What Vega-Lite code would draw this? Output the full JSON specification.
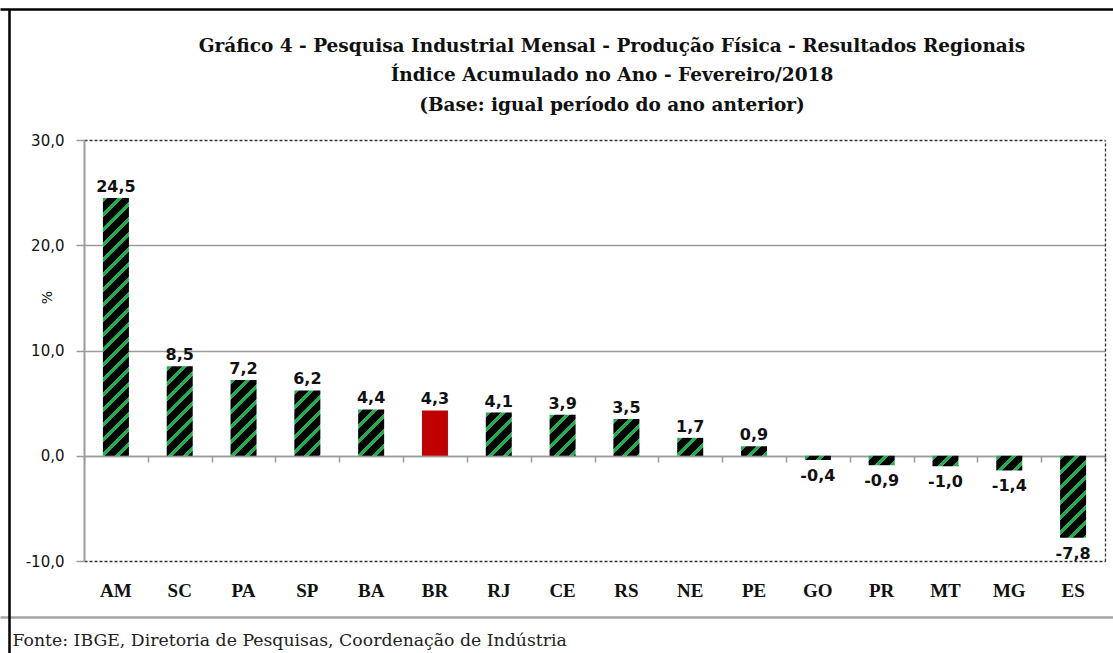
{
  "$schema": "https://vega.github.io/schema/vega-lite/v6.json",
  "width": 1104,
  "height": 644,
  "autosize": "none",
  "padding": {"left": 9, "top": 9, "right": 0, "bottom": 0},
  "background": "white",
  "config": {
    "locale": {"number": {"decimal": ",", "thousands": ".", "grouping": [3], "currency": ["R$", ""], "minus": "-"}},
    "view": {"stroke": null}
  },
  "title": {
    "text": ["Gráfico 4 - Pesquisa Industrial Mensal - Produção Física - Resultados Regionais", "Índice Acumulado no Ano - Fevereiro/2018", "(Base: igual período do ano anterior)"],
    "anchor": "middle", "frame": "group", "orient": "top", "dx": 51, "offset": -105, "baseline": "top",
    "font": "DejaVu Serif", "fontSize": 18.5, "fontWeight": "bold", "color": "#111", "lineHeight": 29.5
  },
  "data": {"values": [
    {"region": "AM", "v": 24.5}, {"region": "SC", "v": 8.5}, {"region": "PA", "v": 7.2}, {"region": "SP", "v": 6.2},
    {"region": "BA", "v": 4.4}, {"region": "BR", "v": 4.3}, {"region": "RJ", "v": 4.1}, {"region": "CE", "v": 3.9},
    {"region": "RS", "v": 3.5}, {"region": "NE", "v": 1.7}, {"region": "PE", "v": 0.9}, {"region": "GO", "v": -0.4},
    {"region": "PR", "v": -0.9}, {"region": "MT", "v": -1.0}, {"region": "MG", "v": -1.4}, {"region": "ES", "v": -7.8}
  ]},
  "layer": [
    {
      "mark": {"type": "bar", "width": 26},
      "encoding": {
        "x": {"field": "region", "type": "nominal", "sort": null,
          "scale": {"domain": ["AM","SC","PA","SP","BA","BR","RJ","CE","RS","NE","PE","GO","PR","MT","MG","ES"], "range": [75, 1096], "paddingInner": 0, "paddingOuter": 0},
          "axis": {"orient": "bottom", "offset": -72, "domain": false, "ticks": false, "tickSize": 0, "labelPadding": 0, "labelAngle": 0,
            "labelFont": "Liberation Serif", "labelFontWeight": "bold", "labelFontSize": 19, "labelColor": "#111", "title": null, "grid": false}},
        "y": {"field": "v", "type": "quantitative",
          "scale": {"domain": [-10, 30], "range": [552, 131], "zero": false, "nice": false},
          "axis": {"orient": "left", "offset": -75, "values": [-10, 0, 10, 20, 30], "format": ".1f",
            "domainColor": "#9b9b9b", "domainWidth": 2, "tickColor": "#9b9b9b", "tickWidth": 1.5, "tickSize": 8, "labelPadding": 12,
            "labelFont": "DejaVu Sans", "labelFontSize": 15, "labelColor": "#111",
            "grid": true, "gridWidth": 1.3,
            "gridColor": {"condition": {"test": "datum.value === 30 || datum.value === -10", "value": "#333"}, "value": "#9b9b9b"},
            "gridDash": {"condition": {"test": "datum.value === 30 || datum.value === -10", "value": [3, 2]}, "value": []},
            "title": "%", "titleFont": "DejaVu Sans", "titleFontSize": 14, "titleFontWeight": "normal", "titleColor": "#111",
            "titleX": -37, "titleY": 288, "titleAngle": 270, "titleAlign": "center", "titleBaseline": "middle"}},
        "fill": {
          "condition": [
            {"test": "datum.region === 'AM'", "value": {"gradient": "linear", "x1": 0, "y1": 0, "x2": 0.1103, "y2": 1.0941, "stops": [
              {"offset":0,"color":"#22ad4e"},{"offset":0.0175,"color":"#22ad4e"},{"offset":0.0175,"color":"#000"},{"offset":0.0526,"color":"#000"},
              {"offset":0.0526,"color":"#22ad4e"},{"offset":0.0702,"color":"#22ad4e"},{"offset":0.0702,"color":"#000"},{"offset":0.1053,"color":"#000"},
              {"offset":0.1053,"color":"#22ad4e"},{"offset":0.1228,"color":"#22ad4e"},{"offset":0.1228,"color":"#000"},{"offset":0.1579,"color":"#000"},
              {"offset":0.1579,"color":"#22ad4e"},{"offset":0.1754,"color":"#22ad4e"},{"offset":0.1754,"color":"#000"},{"offset":0.2105,"color":"#000"},
              {"offset":0.2105,"color":"#22ad4e"},{"offset":0.2281,"color":"#22ad4e"},{"offset":0.2281,"color":"#000"},{"offset":0.2632,"color":"#000"},
              {"offset":0.2632,"color":"#22ad4e"},{"offset":0.2807,"color":"#22ad4e"},{"offset":0.2807,"color":"#000"},{"offset":0.3158,"color":"#000"},
              {"offset":0.3158,"color":"#22ad4e"},{"offset":0.3333,"color":"#22ad4e"},{"offset":0.3333,"color":"#000"},{"offset":0.3684,"color":"#000"},
              {"offset":0.3684,"color":"#22ad4e"},{"offset":0.3860,"color":"#22ad4e"},{"offset":0.3860,"color":"#000"},{"offset":0.4211,"color":"#000"},
              {"offset":0.4211,"color":"#22ad4e"},{"offset":0.4386,"color":"#22ad4e"},{"offset":0.4386,"color":"#000"},{"offset":0.4737,"color":"#000"},
              {"offset":0.4737,"color":"#22ad4e"},{"offset":0.4912,"color":"#22ad4e"},{"offset":0.4912,"color":"#000"},{"offset":0.5263,"color":"#000"},
              {"offset":0.5263,"color":"#22ad4e"},{"offset":0.5439,"color":"#22ad4e"},{"offset":0.5439,"color":"#000"},{"offset":0.5789,"color":"#000"},
              {"offset":0.5789,"color":"#22ad4e"},{"offset":0.5965,"color":"#22ad4e"},{"offset":0.5965,"color":"#000"},{"offset":0.6316,"color":"#000"},
              {"offset":0.6316,"color":"#22ad4e"},{"offset":0.6491,"color":"#22ad4e"},{"offset":0.6491,"color":"#000"},{"offset":0.6842,"color":"#000"},
              {"offset":0.6842,"color":"#22ad4e"},{"offset":0.7018,"color":"#22ad4e"},{"offset":0.7018,"color":"#000"},{"offset":0.7368,"color":"#000"},
              {"offset":0.7368,"color":"#22ad4e"},{"offset":0.7544,"color":"#22ad4e"},{"offset":0.7544,"color":"#000"},{"offset":0.7895,"color":"#000"},
              {"offset":0.7895,"color":"#22ad4e"},{"offset":0.8070,"color":"#22ad4e"},{"offset":0.8070,"color":"#000"},{"offset":0.8421,"color":"#000"},
              {"offset":0.8421,"color":"#22ad4e"},{"offset":0.8596,"color":"#22ad4e"},{"offset":0.8596,"color":"#000"},{"offset":0.8947,"color":"#000"},
              {"offset":0.8947,"color":"#22ad4e"},{"offset":0.9123,"color":"#22ad4e"},{"offset":0.9123,"color":"#000"},{"offset":0.9474,"color":"#000"},
              {"offset":0.9474,"color":"#22ad4e"},{"offset":0.9649,"color":"#22ad4e"},{"offset":0.9649,"color":"#000"},{"offset":1,"color":"#000"}]}},
            {"test": "datum.region === 'SC'", "value": {"gradient": "linear", "x1": 0, "y1": 0, "x2": 0.3595, "y2": 1.2369, "stops": [
              {"offset":0,"color":"#22ad4e"},{"offset":0.0417,"color":"#22ad4e"},{"offset":0.0417,"color":"#000"},{"offset":0.125,"color":"#000"},
              {"offset":0.125,"color":"#22ad4e"},{"offset":0.1667,"color":"#22ad4e"},{"offset":0.1667,"color":"#000"},{"offset":0.25,"color":"#000"},
              {"offset":0.25,"color":"#22ad4e"},{"offset":0.2917,"color":"#22ad4e"},{"offset":0.2917,"color":"#000"},{"offset":0.375,"color":"#000"},
              {"offset":0.375,"color":"#22ad4e"},{"offset":0.4167,"color":"#22ad4e"},{"offset":0.4167,"color":"#000"},{"offset":0.5,"color":"#000"},
              {"offset":0.5,"color":"#22ad4e"},{"offset":0.5417,"color":"#22ad4e"},{"offset":0.5417,"color":"#000"},{"offset":0.625,"color":"#000"},
              {"offset":0.625,"color":"#22ad4e"},{"offset":0.6667,"color":"#22ad4e"},{"offset":0.6667,"color":"#000"},{"offset":0.75,"color":"#000"},
              {"offset":0.75,"color":"#22ad4e"},{"offset":0.7917,"color":"#22ad4e"},{"offset":0.7917,"color":"#000"},{"offset":0.875,"color":"#000"},
              {"offset":0.875,"color":"#22ad4e"},{"offset":0.9167,"color":"#22ad4e"},{"offset":0.9167,"color":"#000"},{"offset":1,"color":"#000"}]}},
            {"test": "datum.region === 'PA'", "value": {"gradient": "linear", "x1": 0, "y1": 0, "x2": 0.4253, "y2": 1.2397, "stops": [
              {"offset":0,"color":"#22ad4e"},{"offset":0.0476,"color":"#22ad4e"},{"offset":0.0476,"color":"#000"},{"offset":0.1429,"color":"#000"},
              {"offset":0.1429,"color":"#22ad4e"},{"offset":0.1905,"color":"#22ad4e"},{"offset":0.1905,"color":"#000"},{"offset":0.2857,"color":"#000"},
              {"offset":0.2857,"color":"#22ad4e"},{"offset":0.3333,"color":"#22ad4e"},{"offset":0.3333,"color":"#000"},{"offset":0.4286,"color":"#000"},
              {"offset":0.4286,"color":"#22ad4e"},{"offset":0.4762,"color":"#22ad4e"},{"offset":0.4762,"color":"#000"},{"offset":0.5714,"color":"#000"},
              {"offset":0.5714,"color":"#22ad4e"},{"offset":0.6190,"color":"#22ad4e"},{"offset":0.6190,"color":"#000"},{"offset":0.7143,"color":"#000"},
              {"offset":0.7143,"color":"#22ad4e"},{"offset":0.7619,"color":"#22ad4e"},{"offset":0.7619,"color":"#000"},{"offset":0.8571,"color":"#000"},
              {"offset":0.8571,"color":"#22ad4e"},{"offset":0.9048,"color":"#22ad4e"},{"offset":0.9048,"color":"#000"},{"offset":1,"color":"#000"}]}},
            {"test": "datum.region === 'SP'", "value": {"gradient": "linear", "x1": 0, "y1": 0, "x2": 0.5533, "y2": 1.3886, "stops": [
              {"offset":0,"color":"#22ad4e"},{"offset":0.0476,"color":"#22ad4e"},{"offset":0.0476,"color":"#000"},{"offset":0.1429,"color":"#000"},
              {"offset":0.1429,"color":"#22ad4e"},{"offset":0.1905,"color":"#22ad4e"},{"offset":0.1905,"color":"#000"},{"offset":0.2857,"color":"#000"},
              {"offset":0.2857,"color":"#22ad4e"},{"offset":0.3333,"color":"#22ad4e"},{"offset":0.3333,"color":"#000"},{"offset":0.4286,"color":"#000"},
              {"offset":0.4286,"color":"#22ad4e"},{"offset":0.4762,"color":"#22ad4e"},{"offset":0.4762,"color":"#000"},{"offset":0.5714,"color":"#000"},
              {"offset":0.5714,"color":"#22ad4e"},{"offset":0.6190,"color":"#22ad4e"},{"offset":0.6190,"color":"#000"},{"offset":0.7143,"color":"#000"},
              {"offset":0.7143,"color":"#22ad4e"},{"offset":0.7619,"color":"#22ad4e"},{"offset":0.7619,"color":"#000"},{"offset":0.8571,"color":"#000"},
              {"offset":0.8571,"color":"#22ad4e"},{"offset":0.9048,"color":"#22ad4e"},{"offset":0.9048,"color":"#000"},{"offset":1,"color":"#000"}]}},
            {"test": "datum.region === 'BA'", "value": {"gradient": "linear", "x1": 0, "y1": 0, "x2": 0.6913, "y2": 1.2314, "stops": [
              {"offset":0,"color":"#22ad4e"},{"offset":0.0667,"color":"#22ad4e"},{"offset":0.0667,"color":"#000"},{"offset":0.2,"color":"#000"},
              {"offset":0.2,"color":"#22ad4e"},{"offset":0.2667,"color":"#22ad4e"},{"offset":0.2667,"color":"#000"},{"offset":0.4,"color":"#000"},
              {"offset":0.4,"color":"#22ad4e"},{"offset":0.4667,"color":"#22ad4e"},{"offset":0.4667,"color":"#000"},{"offset":0.6,"color":"#000"},
              {"offset":0.6,"color":"#22ad4e"},{"offset":0.6667,"color":"#22ad4e"},{"offset":0.6667,"color":"#000"},{"offset":0.8,"color":"#000"},
              {"offset":0.8,"color":"#22ad4e"},{"offset":0.8667,"color":"#22ad4e"},{"offset":0.8667,"color":"#000"},{"offset":1,"color":"#000"}]}},
            {"test": "datum.region === 'RJ'", "value": {"gradient": "linear", "x1": 0, "y1": 0, "x2": 0.7684, "y2": 1.2752, "stops": [
              {"offset":0,"color":"#22ad4e"},{"offset":0.0667,"color":"#22ad4e"},{"offset":0.0667,"color":"#000"},{"offset":0.2,"color":"#000"},
              {"offset":0.2,"color":"#22ad4e"},{"offset":0.2667,"color":"#22ad4e"},{"offset":0.2667,"color":"#000"},{"offset":0.4,"color":"#000"},
              {"offset":0.4,"color":"#22ad4e"},{"offset":0.4667,"color":"#22ad4e"},{"offset":0.4667,"color":"#000"},{"offset":0.6,"color":"#000"},
              {"offset":0.6,"color":"#22ad4e"},{"offset":0.6667,"color":"#22ad4e"},{"offset":0.6667,"color":"#000"},{"offset":0.8,"color":"#000"},
              {"offset":0.8,"color":"#22ad4e"},{"offset":0.8667,"color":"#22ad4e"},{"offset":0.8667,"color":"#000"},{"offset":1,"color":"#000"}]}},
            {"test": "datum.region === 'CE'", "value": {"gradient": "linear", "x1": 0, "y1": 0, "x2": 0.8259, "y2": 1.3040, "stops": [
              {"offset":0,"color":"#22ad4e"},{"offset":0.0667,"color":"#22ad4e"},{"offset":0.0667,"color":"#000"},{"offset":0.2,"color":"#000"},
              {"offset":0.2,"color":"#22ad4e"},{"offset":0.2667,"color":"#22ad4e"},{"offset":0.2667,"color":"#000"},{"offset":0.4,"color":"#000"},
              {"offset":0.4,"color":"#22ad4e"},{"offset":0.4667,"color":"#22ad4e"},{"offset":0.4667,"color":"#000"},{"offset":0.6,"color":"#000"},
              {"offset":0.6,"color":"#22ad4e"},{"offset":0.6667,"color":"#22ad4e"},{"offset":0.6667,"color":"#000"},{"offset":0.8,"color":"#000"},
              {"offset":0.8,"color":"#22ad4e"},{"offset":0.8667,"color":"#22ad4e"},{"offset":0.8667,"color":"#000"},{"offset":1,"color":"#000"}]}},
            {"test": "datum.region === 'RS'", "value": {"gradient": "linear", "x1": 0, "y1": 0, "x2": 0.9591, "y2": 1.3589, "stops": [
              {"offset":0,"color":"#22ad4e"},{"offset":0.0667,"color":"#22ad4e"},{"offset":0.0667,"color":"#000"},{"offset":0.2,"color":"#000"},
              {"offset":0.2,"color":"#22ad4e"},{"offset":0.2667,"color":"#22ad4e"},{"offset":0.2667,"color":"#000"},{"offset":0.4,"color":"#000"},
              {"offset":0.4,"color":"#22ad4e"},{"offset":0.4667,"color":"#22ad4e"},{"offset":0.4667,"color":"#000"},{"offset":0.6,"color":"#000"},
              {"offset":0.6,"color":"#22ad4e"},{"offset":0.6667,"color":"#22ad4e"},{"offset":0.6667,"color":"#000"},{"offset":0.8,"color":"#000"},
              {"offset":0.8,"color":"#22ad4e"},{"offset":0.8667,"color":"#22ad4e"},{"offset":0.8667,"color":"#000"},{"offset":1,"color":"#000"}]}},
            {"test": "datum.region === 'NE'", "value": {"gradient": "linear", "x1": 0, "y1": 0, "x2": 1.1746, "y2": 0.8083, "stops": [
              {"offset":0,"color":"#22ad4e"},{"offset":0.1111,"color":"#22ad4e"},{"offset":0.1111,"color":"#000"},{"offset":0.3333,"color":"#000"},
              {"offset":0.3333,"color":"#22ad4e"},{"offset":0.4444,"color":"#22ad4e"},{"offset":0.4444,"color":"#000"},{"offset":0.6667,"color":"#000"},
              {"offset":0.6667,"color":"#22ad4e"},{"offset":0.7778,"color":"#22ad4e"},{"offset":0.7778,"color":"#000"},{"offset":1,"color":"#000"}]}},
            {"test": "datum.region === 'PE'", "value": {"gradient": "linear", "x1": 0, "y1": 0, "x2": 1.5280, "y2": 0.5566, "stops": [
              {"offset":0,"color":"#22ad4e"},{"offset":0.1111,"color":"#22ad4e"},{"offset":0.1111,"color":"#000"},{"offset":0.3333,"color":"#000"},
              {"offset":0.3333,"color":"#22ad4e"},{"offset":0.4444,"color":"#22ad4e"},{"offset":0.4444,"color":"#000"},{"offset":0.6667,"color":"#000"},
              {"offset":0.6667,"color":"#22ad4e"},{"offset":0.7778,"color":"#22ad4e"},{"offset":0.7778,"color":"#000"},{"offset":1,"color":"#000"}]}},
            {"test": "datum.region === 'GO'", "value": {"gradient": "linear", "x1": 0, "y1": 0, "x2": 1.6866, "y2": 0.2731, "stops": [
              {"offset":0,"color":"#22ad4e"},{"offset":0.1111,"color":"#22ad4e"},{"offset":0.1111,"color":"#000"},{"offset":0.3333,"color":"#000"},
              {"offset":0.3333,"color":"#22ad4e"},{"offset":0.4444,"color":"#22ad4e"},{"offset":0.4444,"color":"#000"},{"offset":0.6667,"color":"#000"},
              {"offset":0.6667,"color":"#22ad4e"},{"offset":0.7778,"color":"#22ad4e"},{"offset":0.7778,"color":"#000"},{"offset":1,"color":"#000"}]}},
            {"test": "datum.region === 'PR'", "value": {"gradient": "linear", "x1": 0, "y1": 0, "x2": 1.5280, "y2": 0.5566, "stops": [
              {"offset":0,"color":"#22ad4e"},{"offset":0.1111,"color":"#22ad4e"},{"offset":0.1111,"color":"#000"},{"offset":0.3333,"color":"#000"},
              {"offset":0.3333,"color":"#22ad4e"},{"offset":0.4444,"color":"#22ad4e"},{"offset":0.4444,"color":"#000"},{"offset":0.6667,"color":"#000"},
              {"offset":0.6667,"color":"#22ad4e"},{"offset":0.7778,"color":"#22ad4e"},{"offset":0.7778,"color":"#000"},{"offset":1,"color":"#000"}]}},
            {"test": "datum.region === 'MT'", "value": {"gradient": "linear", "x1": 0, "y1": 0, "x2": 1.4870, "y2": 0.6020, "stops": [
              {"offset":0,"color":"#22ad4e"},{"offset":0.1111,"color":"#22ad4e"},{"offset":0.1111,"color":"#000"},{"offset":0.3333,"color":"#000"},
              {"offset":0.3333,"color":"#22ad4e"},{"offset":0.4444,"color":"#22ad4e"},{"offset":0.4444,"color":"#000"},{"offset":0.6667,"color":"#000"},
              {"offset":0.6667,"color":"#22ad4e"},{"offset":0.7778,"color":"#22ad4e"},{"offset":0.7778,"color":"#000"},{"offset":1,"color":"#000"}]}},
            {"test": "datum.region === 'MG'", "value": {"gradient": "linear", "x1": 0, "y1": 0, "x2": 1.3101, "y2": 0.7424, "stops": [
              {"offset":0,"color":"#22ad4e"},{"offset":0.1111,"color":"#22ad4e"},{"offset":0.1111,"color":"#000"},{"offset":0.3333,"color":"#000"},
              {"offset":0.3333,"color":"#22ad4e"},{"offset":0.4444,"color":"#22ad4e"},{"offset":0.4444,"color":"#000"},{"offset":0.6667,"color":"#000"},
              {"offset":0.6667,"color":"#22ad4e"},{"offset":0.7778,"color":"#22ad4e"},{"offset":0.7778,"color":"#000"},{"offset":1,"color":"#000"}]}},
            {"test": "datum.region === 'ES'", "value": {"gradient": "linear", "x1": 0, "y1": 0, "x2": 0.4207, "y2": 1.3285, "stops": [
              {"offset":0,"color":"#22ad4e"},{"offset":0.0417,"color":"#22ad4e"},{"offset":0.0417,"color":"#000"},{"offset":0.125,"color":"#000"},
              {"offset":0.125,"color":"#22ad4e"},{"offset":0.1667,"color":"#22ad4e"},{"offset":0.1667,"color":"#000"},{"offset":0.25,"color":"#000"},
              {"offset":0.25,"color":"#22ad4e"},{"offset":0.2917,"color":"#22ad4e"},{"offset":0.2917,"color":"#000"},{"offset":0.375,"color":"#000"},
              {"offset":0.375,"color":"#22ad4e"},{"offset":0.4167,"color":"#22ad4e"},{"offset":0.4167,"color":"#000"},{"offset":0.5,"color":"#000"},
              {"offset":0.5,"color":"#22ad4e"},{"offset":0.5417,"color":"#22ad4e"},{"offset":0.5417,"color":"#000"},{"offset":0.625,"color":"#000"},
              {"offset":0.625,"color":"#22ad4e"},{"offset":0.6667,"color":"#22ad4e"},{"offset":0.6667,"color":"#000"},{"offset":0.75,"color":"#000"},
              {"offset":0.75,"color":"#22ad4e"},{"offset":0.7917,"color":"#22ad4e"},{"offset":0.7917,"color":"#000"},{"offset":0.875,"color":"#000"},
              {"offset":0.875,"color":"#22ad4e"},{"offset":0.9167,"color":"#22ad4e"},{"offset":0.9167,"color":"#000"},{"offset":1,"color":"#000"}]}}
          ],
          "value": "#c00000"
        }
      }
    },
    {
      "transform": [{"filter": "datum.v >= 0"}],
      "mark": {"type": "text", "font": "DejaVu Sans", "fontWeight": "bold", "fontSize": 16, "color": "#111", "baseline": "alphabetic", "dy": -6},
      "encoding": {
        "x": {"field": "region", "type": "nominal", "sort": null,
          "scale": {"domain": ["AM","SC","PA","SP","BA","BR","RJ","CE","RS","NE","PE","GO","PR","MT","MG","ES"], "range": [75, 1096], "paddingInner": 0, "paddingOuter": 0},
          "axis": {"orient": "bottom", "offset": -197, "labels": false, "title": null, "grid": false,
            "domainColor": "#9b9b9b", "domainWidth": 1.5, "tickColor": "#9b9b9b", "tickWidth": 1.5, "tickSize": 6, "tickBand": "extent"}},
        "y": {"field": "v", "type": "quantitative",
          "scale": {"domain": [-10, 30], "range": [552, 131], "zero": false, "nice": false},
          "axis": {"orient": "right", "offset": -8, "labels": false, "ticks": false, "grid": false, "title": null,
            "domainColor": "#333", "domainDash": [3, 2], "domainWidth": 1.3}},
        "text": {"field": "v", "type": "quantitative", "format": ".1f"}
      }
    },
    {
      "transform": [{"filter": "datum.v < 0"}],
      "mark": {"type": "text", "font": "DejaVu Sans", "fontWeight": "bold", "fontSize": 16, "color": "#111", "baseline": "top", "dy": 8},
      "encoding": {
        "x": {"field": "region", "type": "nominal", "sort": null,
          "scale": {"domain": ["AM","SC","PA","SP","BA","BR","RJ","CE","RS","NE","PE","GO","PR","MT","MG","ES"], "range": [75, 1096], "paddingInner": 0, "paddingOuter": 0},
          "axis": null},
        "y": {"field": "v", "type": "quantitative",
          "scale": {"domain": [-10, 30], "range": [552, 131], "zero": false, "nice": false},
          "axis": null},
        "text": {"field": "v", "type": "quantitative", "format": ".1f"}
      }
    },
    {
      "mark": {"type": "point", "opacity": 0},
      "encoding": {
        "x": {"field": "region", "type": "nominal", "sort": null,
          "scale": {"domain": ["AM","SC","PA","SP","BA","BR","RJ","CE","RS","NE","PE","GO","PR","MT","MG","ES"], "range": [-9, 1104], "paddingInner": 0, "paddingOuter": 0},
          "axis": {"orient": "top", "offset": 0, "labels": false, "ticks": false, "grid": false, "title": null, "domainColor": "#000", "domainWidth": 2.5}},
        "y": {"field": "v", "type": "quantitative",
          "scale": {"domain": [-10, 30], "range": [644, 0], "zero": false, "nice": false},
          "axis": {"orient": "left", "offset": 0, "labels": false, "ticks": false, "grid": false, "title": null, "domainColor": "#000", "domainWidth": 2.5}}
      }
    },
    {
      "mark": {"type": "point", "opacity": 0},
      "encoding": {
        "x": {"field": "region", "type": "nominal", "sort": null,
          "scale": {"domain": ["AM","SC","PA","SP","BA","BR","RJ","CE","RS","NE","PE","GO","PR","MT","MG","ES"], "range": [-9, 1104], "paddingInner": 0, "paddingOuter": 0},
          "axis": {"orient": "bottom", "offset": -36, "labels": false, "ticks": false, "grid": false, "domainColor": "#a6a6a6", "domainWidth": 2.5,
            "title": "Fonte: IBGE, Diretoria de Pesquisas, Coordenação de Indústria",
            "titleFont": "DejaVu Serif", "titleFontSize": 17.3, "titleFontWeight": "normal", "titleColor": "#222",
            "titleX": 3, "titleY": 28, "titleAnchor": "start", "titleAlign": "left", "titleBaseline": "alphabetic"}}
      }
    }
  ],
  "resolve": {"scale": {"x": "independent", "y": "independent"}, "axis": {"x": "independent", "y": "independent"}}
}
